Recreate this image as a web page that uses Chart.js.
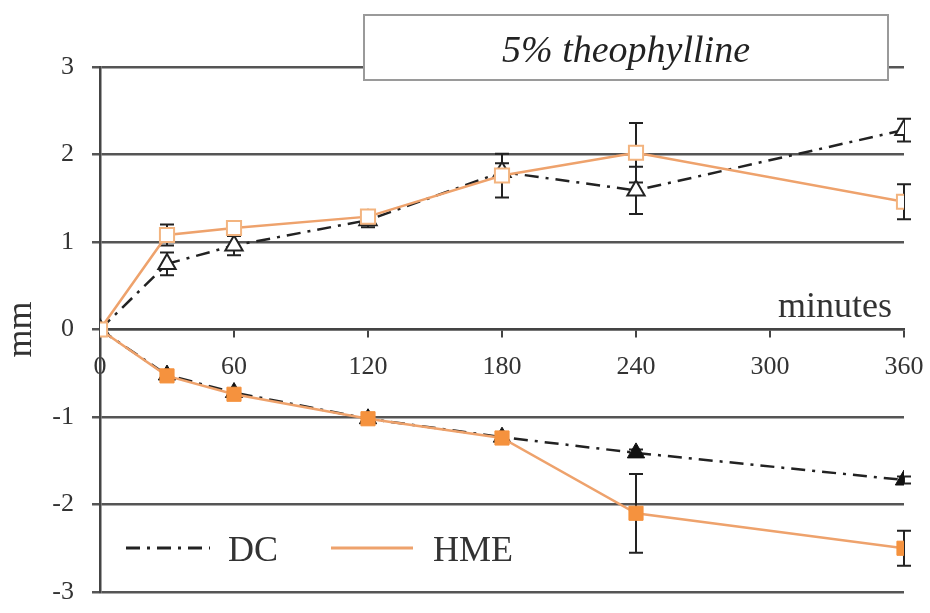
<!DOCTYPE html>
<html>
<head>
<meta charset="utf-8">
<script src="https://cdn.jsdelivr.net/npm/chart.js@4.4.1/dist/chart.umd.min.js"></script>
<style>
  body { margin: 0; background: #fff; }
  canvas { display: block; }
</style>
</head>
<body>
<canvas id="swellingChart" width="930" height="613"></canvas>
<script>
const minutes = [0, 30, 60, 120, 180, 240, 360];
const xTicks = [0, 60, 120, 180, 240, 300, 360];

// upper curves: swelling, lower curves: erosion (mm)
const dcSwelling = [0, 0.75, 0.96, 1.25, 1.8, 1.59, 2.28];
const dcSwellingErr = [0, 0.13, 0.11, 0.08, 0.1, 0.27, 0.13];
const hmeSwelling = [0, 1.08, 1.16, 1.29, 1.76, 2.02, 1.46];
const hmeSwellingErr = [0, 0.12, 0.05, 0.07, 0.25, 0.34, 0.2];
const dcErosion = [0, -0.52, -0.72, -1.02, -1.23, -1.41, -1.72];
const dcErosionErr = [0, 0.04, 0.04, 0.03, 0.03, 0.04, 0.04];
const hmeErosion = [0, -0.53, -0.74, -1.02, -1.24, -2.1, -2.5];
const hmeErosionErr = [0, 0.05, 0.05, 0.04, 0.04, 0.45, 0.2];

const ORANGE_LINE = '#eea26c';
const ORANGE_FILL = '#f5923e';
const DASH_DOT = [14, 7, 3, 7];
const SERIF = '"Liberation Serif", "DejaVu Serif", serif';

function points(values) {
    return minutes.map((m, i) => ({ x: m, y: values[i] }));
}

// vertical error bars with caps, drawn under the markers
const errorBars = {
    id: 'errorBars',
    beforeDatasetsDraw(chart) {
        const ctx = chart.ctx;
        const yScale = chart.scales.y;
        ctx.save();
        ctx.strokeStyle = '#222';
        ctx.lineWidth = 2;
        chart.data.datasets.forEach((ds, di) => {
            const meta = chart.getDatasetMeta(di);
            ds.data.forEach((p, i) => {
                const err = ds.errors[i];
                if (!err) return;
                const x = meta.data[i].x;
                const top = yScale.getPixelForValue(p.y + err);
                const bottom = yScale.getPixelForValue(p.y - err);
                ctx.beginPath();
                ctx.moveTo(x, top);
                ctx.lineTo(x, bottom);
                ctx.moveTo(x - 7, top);
                ctx.lineTo(x + 7, top);
                ctx.moveTo(x - 7, bottom);
                ctx.lineTo(x + 7, bottom);
                ctx.stroke();
            });
        });
        ctx.restore();
    }
};

// boxed title, axis caption and the two-entry key
const annotations = {
    id: 'annotations',
    afterDraw(chart) {
        const ctx = chart.ctx;
        ctx.save();

        ctx.fillStyle = '#fff';
        ctx.fillRect(364, 15, 524, 65);
        ctx.strokeStyle = '#9a9a9a';
        ctx.lineWidth = 2;
        ctx.strokeRect(364, 15, 524, 65);
        ctx.fillStyle = '#222';
        ctx.font = 'italic 38px ' + SERIF;
        ctx.textAlign = 'center';
        ctx.textBaseline = 'alphabetic';
        ctx.fillText('5% theophylline', 626, 62);

        ctx.fillStyle = '#333';
        ctx.font = '36px ' + SERIF;
        ctx.textAlign = 'right';
        ctx.fillText('minutes', 892, 317);

        const legendY = 548;
        ctx.lineWidth = 3;
        ctx.strokeStyle = '#222';
        ctx.setLineDash(DASH_DOT);
        ctx.beginPath();
        ctx.moveTo(126, legendY);
        ctx.lineTo(210, legendY);
        ctx.stroke();
        ctx.setLineDash([]);
        ctx.strokeStyle = ORANGE_LINE;
        ctx.lineWidth = 3;
        ctx.beginPath();
        ctx.moveTo(331, legendY);
        ctx.lineTo(413, legendY);
        ctx.stroke();

        ctx.fillStyle = '#333';
        ctx.textAlign = 'left';
        ctx.font = '36px ' + SERIF;
        ctx.fillText('DC', 228, 561);
        ctx.fillText('HME', 433, 561);
        ctx.restore();
    }
};

const ctx = document.getElementById('swellingChart').getContext('2d');
new Chart(ctx, {
    type: 'line',
    data: {
        datasets: [
            {
                label: 'HME',
                data: points(hmeSwelling),
                errors: hmeSwellingErr,
                borderColor: ORANGE_LINE,
                borderWidth: 2.5,
                pointStyle: 'rect',
                pointRadius: 10,
                pointBackgroundColor: '#fff',
                pointBorderColor: '#f3b47f',
                pointBorderWidth: 2
            },
            {
                label: 'HME',
                data: points(hmeErosion),
                errors: hmeErosionErr,
                borderColor: ORANGE_LINE,
                borderWidth: 2.5,
                pointStyle: 'rect',
                pointRadius: 10,
                pointBackgroundColor: ORANGE_FILL,
                pointBorderColor: ORANGE_FILL,
                pointBorderWidth: 1
            },
            {
                label: 'DC',
                data: points(dcSwelling),
                errors: dcSwellingErr,
                borderColor: '#222',
                borderWidth: 2.5,
                borderDash: DASH_DOT,
                pointStyle: 'triangle',
                pointRadius: 10,
                pointBackgroundColor: '#fff',
                pointBorderColor: '#222',
                pointBorderWidth: 2
            },
            {
                label: 'DC',
                data: points(dcErosion),
                errors: dcErosionErr,
                borderColor: '#222',
                borderWidth: 2.5,
                borderDash: DASH_DOT,
                pointStyle: 'triangle',
                pointRadius: 10,
                pointBackgroundColor: '#111',
                pointBorderColor: '#111',
                pointBorderWidth: 1
            }
        ]
    },
    options: {
        responsive: false,
        animation: false,
        layout: { padding: { top: 67, right: 26, bottom: 21, left: 0 } },
        plugins: {
            legend: { display: false },
            tooltip: { enabled: false }
        },
        scales: {
            x: {
                type: 'linear',
                position: { y: 0 },
                min: 0,
                max: 360,
                afterBuildTicks: s => { s.ticks = xTicks.map(v => ({ value: v })); },
                afterFit: s => {
                    s.height = 0;
                    s.paddingLeft = 0;
                    s.paddingRight = 0;
                },
                grid: {
                    drawOnChartArea: false,
                    drawTicks: true,
                    tickLength: 7,
                    color: '#444',
                    lineWidth: 2
                },
                border: { display: true, color: '#444', width: 2.5 },
                ticks: {
                    color: '#333',
                    padding: 15,
                    maxRotation: 0,
                    font: { family: SERIF, size: 26 }
                }
            },
            y: {
                min: -3,
                max: 3,
                afterFit: s => {
                    s.width = 100;
                    s.paddingTop = 0;
                    s.paddingBottom = 0;
                },
                grid: {
                    color: '#555',
                    lineWidth: 2.5,
                    tickLength: 8
                },
                border: { display: true, color: '#444', width: 2.5 },
                ticks: {
                    stepSize: 1,
                    color: '#333',
                    padding: 18,
                    font: { family: SERIF, size: 26 }
                },
                title: {
                    display: true,
                    text: 'mm',
                    color: '#333',
                    padding: { top: 0, bottom: 4 },
                    font: { family: SERIF, size: 36 }
                }
            }
        }
    },
    plugins: [errorBars, annotations]
});
</script>
</body>
</html>
